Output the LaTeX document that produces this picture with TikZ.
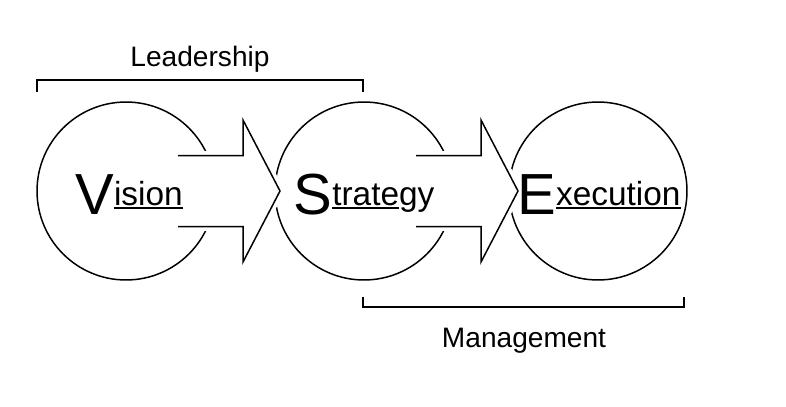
\documentclass[tikz,border=0pt]{standalone}
\usepackage{fontspec}
\setmainfont{Liberation Sans}
\usetikzlibrary{calc}

\tikzset{
    ring/.style={circle, draw, line width=0.85pt, minimum size=3.56cm, inner sep=0pt},
    halo/.style={draw=white, fill=white, line width=5pt},
    blockarrow/.style={line width=0.85pt, line join=miter},
    brace/.style={line width=0.9pt},
    word/.style={anchor=base, inner sep=0pt, font=\fontsize{19}{22}\selectfont},
    tag/.style={anchor=base, inner sep=0pt, font=\fontsize{16}{19}\selectfont}
}
\newcommand{\initial}[1]{\raisebox{-5.5pt}{\fontsize{33}{36}\selectfont #1}}
\newcommand{\uword}[1]{\setbox0\hbox{#1}\rlap{\rule[-2.4pt]{\wd0}{1pt}}\box0}

\begin{document}
\begin{tikzpicture}[x=0.02cm, y=-0.02cm]
    \useasboundingbox (0,0) rectangle (786,406);
    % circles
    \node[ring] (vision) at (126,191) {};
    \node[ring] (strategy) at (364,191) {};
    \node[ring] (execution) at (598,191) {};
    % block arrows
    \foreach \c in {vision,strategy} {
        \coordinate (t1) at ($(\c)+(52,-35.5)$);
        \coordinate (b1) at ($(\c)+(117,-35.5)$);
        \coordinate (h1) at ($(\c)+(117,-71)$);
        \coordinate (p) at ($(\c)+(154,0)$);
        \coordinate (h2) at ($(\c)+(117,71)$);
        \coordinate (b2) at ($(\c)+(117,35.5)$);
        \coordinate (t2) at ($(\c)+(52,35.5)$);
        \path[halo] (t1) -- (b1) -- (h1) -- (p) -- (h2) -- (b2) -- (t2) -- cycle;
        \draw[blockarrow] (t1) -- (b1) -- (h1) -- (p) -- (h2) -- (b2) -- (t2);
    }
    % words
    \node[word] (visionword) at (129,205) {\initial{V}\uword{ision}};
    \node[word] (strategyword) at (364,205) {\initial{S}\uword{trate}gy};
    \node[word] (executionword) at (599,205) {\initial{E}\uword{xecution}};
    % brackets
    \draw[brace] (37,92) |- (363,80) -- (363,92);
    \draw[brace] (363,297) |- (684,307) -- (684,297);
    \node[tag] (leadlabel) at (200,66) {Leadership};
    \node[tag] (managelabel) at (524,347) {Management};
\end{tikzpicture}
\end{document}
